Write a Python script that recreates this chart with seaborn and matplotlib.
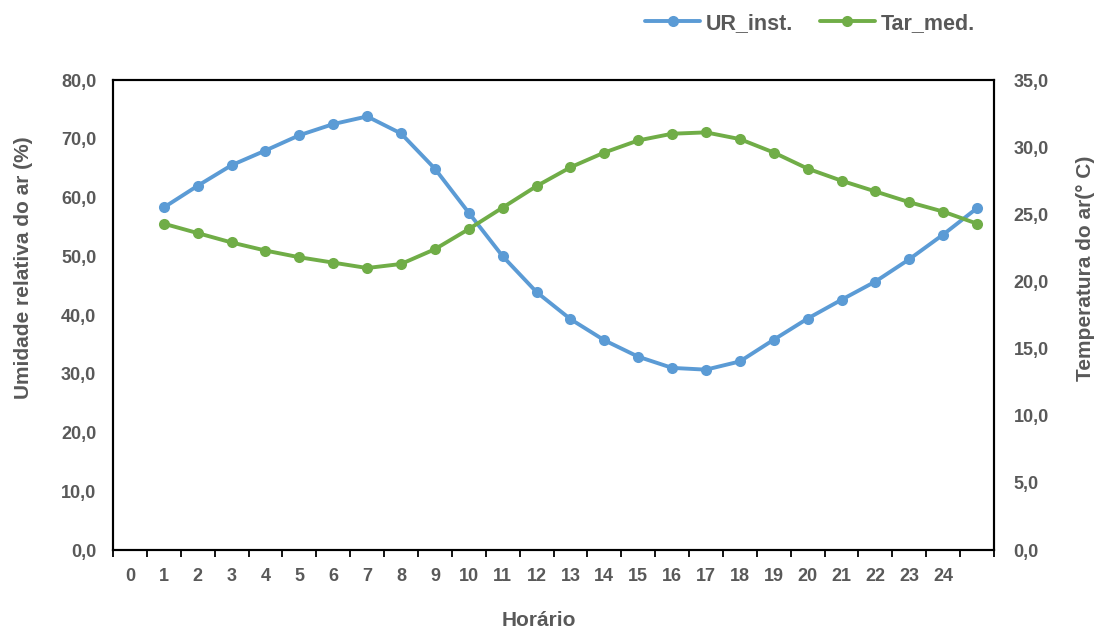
import matplotlib
matplotlib.use("Agg")
import matplotlib.pyplot as plt
from matplotlib.ticker import FixedLocator, FuncFormatter
import seaborn as sns
import pandas as pd

# Hourly categories shown on the x axis (last slot has no label)
hour_labels = [str(h) for h in range(25)] + [""]
# Series are plotted on category slots 1..25
slots = list(range(1, 26))

ur_inst = [58.3, 62.0, 65.5, 68.0, 70.6, 72.5, 73.8, 70.9, 64.9, 57.4,
           50.0, 43.9, 39.3, 35.7, 32.9, 31.0, 30.7, 32.1, 35.8, 39.4,
           42.6, 45.7, 49.5, 53.7, 58.2]
tar_med = [24.3, 23.6, 22.9, 22.3, 21.8, 21.4, 21.0, 21.3, 22.4, 23.9,
           25.5, 27.1, 28.5, 29.6, 30.5, 31.0, 31.1, 30.6, 29.6, 28.4,
           27.5, 26.7, 25.9, 25.2, 24.3]

left_ticks = [0, 10, 20, 30, 40, 50, 60, 70, 80]
right_ticks = [0, 5, 10, 15, 20, 25, 30, 35]

BLUE = "#5B9BD5"
GREEN = "#70AD47"
GRAY = "#595959"

sns.set_theme(style="white")
plt.rcParams["font.family"] = ["Liberation Sans", "DejaVu Sans"]
plt.rcParams["font.weight"] = "bold"

fig = plt.figure(figsize=(10.99, 6.33), dpi=100)
ax = fig.add_axes([0.1028, 0.1311, 0.8017, 0.7425])
ax2 = ax.twinx()

df = pd.DataFrame({"slot": slots, "UR_inst.": ur_inst, "Tar_med.": tar_med})

sns.lineplot(data=df, x="slot", y="UR_inst.", ax=ax, color=BLUE, marker="o",
             markersize=8, markeredgewidth=0, linewidth=2.8,
             label="UR_inst.", legend=False)
sns.lineplot(data=df, x="slot", y="Tar_med.", ax=ax2, color=GREEN, marker="o",
             markersize=8, markeredgewidth=0, linewidth=2.8,
             label="Tar_med.", legend=False)

ax.set_xlim(-0.5, 25.5)
ax.set_ylim(0, 80)
ax2.set_ylim(0, 35)

fmt = FuncFormatter(lambda v, p: f"{v:.1f}".replace(".", ","))
ax.yaxis.set_major_locator(FixedLocator(left_ticks))
ax.yaxis.set_major_formatter(fmt)
ax2.yaxis.set_major_locator(FixedLocator(right_ticks))
ax2.yaxis.set_major_formatter(fmt)

# Category labels centred in slots, tick marks on slot boundaries
ax.set_xticks(range(len(hour_labels)))
ax.set_xticklabels(hour_labels)
ax.set_xticks([i - 0.5 for i in range(len(hour_labels) + 1)], minor=True)
ax.tick_params(axis="x", which="major", length=0, pad=13,
               labelsize=13, labelcolor=GRAY)
ax.tick_params(axis="x", which="minor", length=5, width=1.3,
               color="black", direction="out", bottom=True)
ax.tick_params(axis="y", length=0, pad=12, labelsize=13, labelcolor=GRAY)
ax2.tick_params(axis="y", length=0, pad=14, labelsize=13, labelcolor=GRAY)
for lab in ax.get_xticklabels() + ax.get_yticklabels() + ax2.get_yticklabels():
    lab.set_fontweight("bold")

for a in (ax, ax2):
    for s in a.spines.values():
        s.set_visible(True)
        s.set_color("black")
        s.set_linewidth(1.5)
    a.grid(False)

# Axis titles
ax.set_xlabel("Horário", fontsize=15, fontweight="bold", color=GRAY)
ax.set_ylabel("Umidade relativa do ar (%)", fontsize=15, fontweight="bold",
              color=GRAY)
ax2.set_ylabel("Temperatura do ar(° C)", fontsize=15, fontweight="bold",
               color=GRAY)
ax.xaxis.set_label_coords(0.483, -0.151)
ax.xaxis.label.set_va("center")
ax.yaxis.set_label_coords(-0.102, 0.6)
ax.yaxis.label.set_va("center")
ax2.yaxis.set_label_coords(1.1033, 0.6)
ax2.yaxis.label.set_va("center")

h1, l1 = ax.get_legend_handles_labels()
h2, l2 = ax2.get_legend_handles_labels()
leg = fig.legend(h1 + h2, l1 + l2, loc="center", bbox_to_anchor=(0.737, 0.963),
                 ncol=2, frameon=False, fontsize=15.5, handlelength=2.55,
                 columnspacing=1.25, handletextpad=0.25)
for t in leg.get_texts():
    t.set_color(GRAY)
    t.set_fontweight("bold")

fig.savefig("out.png", dpi=100)
